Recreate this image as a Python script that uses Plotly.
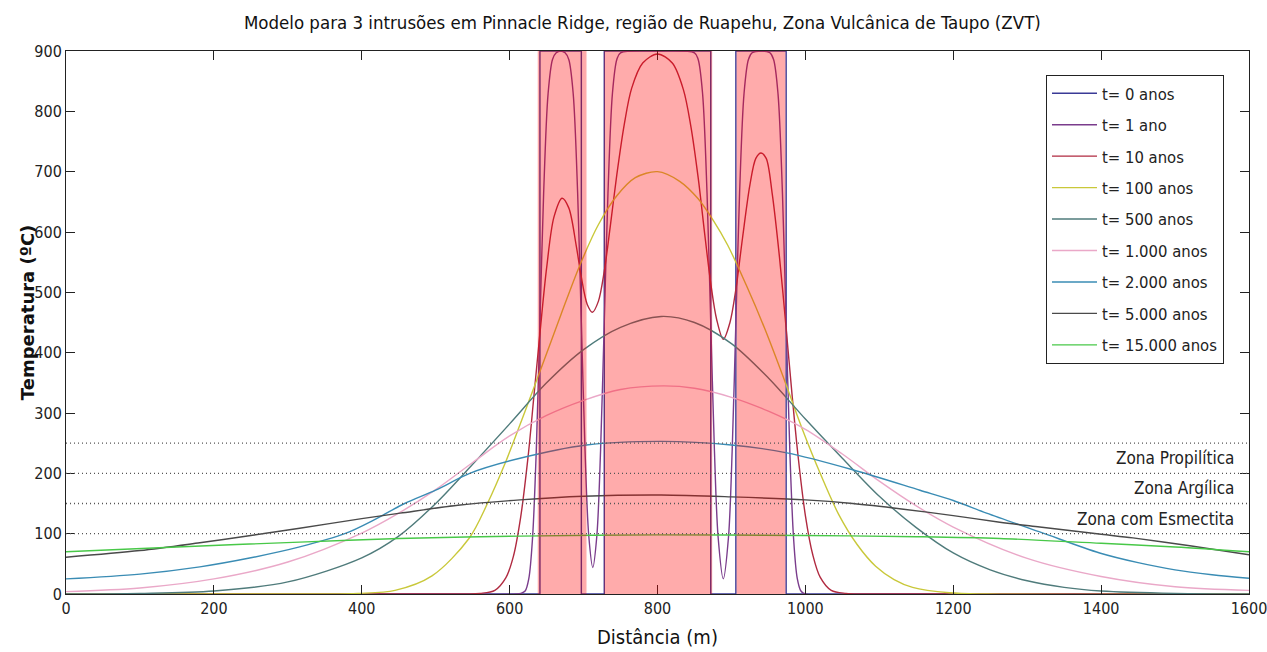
import plotly.graph_objects as go

# ---------------- data ----------------
x_t0 = [0, 641, 641, 697, 697, 728, 728, 872, 872, 906, 906, 974, 974, 1600]
y_t0 = [0, 0, 900, 900, 0, 0, 900, 900, 0, 0, 900, 900, 0, 0]

x_t1 = [0, 610, 615, 621, 626, 631, 636, 641, 646, 652, 658, 663, 669, 675, 680, 686, 692, 697, 702, 707,
        712.5, 718, 723, 728, 733, 739, 745, 750, 800, 850, 855, 861, 867, 872, 877, 882, 889, 896, 901, 906,
        911, 917, 923, 928, 940, 952, 957, 963, 969, 974, 979, 984, 989, 994, 1000, 1600]
y_t1 = [0, 0, 1, 5, 26, 93, 236, 450, 664, 829, 886, 897, 900, 897, 886, 829, 664, 450, 238, 97,
        44, 97, 238, 450, 664, 829, 886, 897, 900, 897, 886, 829, 664, 450, 238, 94, 25, 94, 238, 450,
        664, 829, 886, 897, 900, 897, 886, 829, 664, 450, 236, 93, 26, 5, 0, 0]

x_t10 = [0, 540, 560, 580, 595, 605, 615, 625, 633, 641, 650, 660, 671, 680, 690, 697, 705, 712, 720, 728,
         736, 745, 755, 765, 780, 800, 820, 835, 845, 855, 864, 872, 880, 889, 898, 906, 915, 925, 933, 940,
         947, 955, 965, 974, 982, 990, 1000, 1010, 1020, 1035, 1055, 1080, 1600]
y_t10 = [0, 0, 1, 6, 27, 62, 128, 228, 330, 432, 540, 625, 656, 640, 578, 525, 480, 467, 485, 535,
         608, 695, 778, 838, 880, 895, 880, 836, 776, 690, 595, 515, 455, 422, 450, 505, 590, 678, 722, 731,
         722, 665, 558, 440, 330, 230, 130, 65, 28, 6, 1, 0, 0]

x_t100 = [0, 345, 395, 445, 495, 545, 570, 595, 620, 645, 670, 695, 720, 745, 770, 800, 830, 855, 875, 895,
          920, 945, 970, 995, 1020, 1045, 1070, 1095, 1120, 1145, 1195, 1245, 1600]
y_t100 = [0, 0, 1, 6, 30, 92, 150, 220, 300, 382, 465, 545, 612, 660, 690, 700, 684, 655, 620, 578,
          512, 440, 360, 276, 200, 132, 82, 46, 24, 11, 2, 0, 0]

x_t500 = [0, 100, 200, 300, 400, 450, 500, 550, 600, 650, 700, 750, 805, 850, 900, 950, 1000, 1050, 1100,
          1150, 1200, 1250, 1300, 1350, 1400, 1500, 1600]
y_t500 = [0, 1, 5, 20, 60, 96, 150, 215, 282, 350, 405, 442, 460, 450, 415, 358, 290, 225, 162,
          110, 68, 40, 22, 11, 5, 1, 0]

x_t1000 = [0, 100, 200, 300, 400, 450, 500, 550, 600, 650, 700, 750, 808, 850, 900, 950, 1000, 1050, 1100,
           1150, 1200, 1300, 1400, 1500, 1600]
y_t1000 = [4, 10, 25, 53, 101, 134, 173, 218, 262, 296, 321, 339, 345, 341, 326, 303, 273, 232, 187,
           146, 111, 59, 29, 12, 6]

x_t2000 = [0, 100, 181, 250, 316, 377, 420, 458, 500, 546, 614, 704, 805, 900, 975, 1064, 1155, 1200, 1245,
           1317, 1398, 1450, 1500, 1550, 1600]
y_t2000 = [25, 33, 45, 60, 78, 100, 125, 150, 172, 200, 225, 247, 253, 247, 234, 206, 172, 155, 134,
           103, 68, 52, 40, 32, 26]

x_t5000 = [0, 100, 181, 250, 316, 400, 452, 530, 614, 700, 805, 900, 1000, 1064, 1130, 1200, 1263, 1317,
           1400, 1443, 1520, 1600]
y_t5000 = [61, 72, 85, 97, 109, 125, 134, 147, 156, 162, 164, 161, 156, 150, 141, 130, 119, 111,
           99, 93, 80, 65]

x_t15000 = [0, 150, 316, 450, 614, 800, 1000, 1150, 1263, 1400, 1500, 1600]
y_t15000 = [70, 78, 86, 92, 96, 98, 97, 95, 92, 84, 78, 70]

series_names = ["t= 0 anos", "t= 1 ano", "t= 10 anos", "t= 100 anos", "t= 500 anos",
                "t= 1.000 anos", "t= 2.000 anos", "t= 5.000 anos", "t= 15.000 anos"]

# intrusion (shaded) intervals, in metres
intrusion_start = [638, 728, 907]
intrusion_end = [704, 874, 973]

# alteration zone limits (ºC) and labels
zone_levels = [250, 200, 150, 100]
zone_labels = ["Zona Propilítica", "Zona Argílica", "Zona com Esmectita"]

x_ticks = [0, 200, 400, 600, 800, 1000, 1200, 1400, 1600]
y_ticks = [0, 100, 200, 300, 400, 500, 600, 700, 800, 900]

# ---------------- figure ----------------
xs_all = [x_t0, x_t1, x_t10, x_t100, x_t500, x_t1000, x_t2000, x_t5000, x_t15000]
ys_all = [y_t0, y_t1, y_t10, y_t100, y_t500, y_t1000, y_t2000, y_t5000, y_t15000]
colors = ["#3a3a96", "#7a3c8c", "#b02a40", "#c9c83a", "#4f7b7b",
          "#eaa8c8", "#3a8cb4", "#4a4a4a", "#48c848"]

NARROW = "DejaVu Sans Condensed, Liberation Sans Narrow, Arial Narrow, sans-serif"

fig = go.Figure()
for i, (nm, xs, ys, c) in enumerate(zip(series_names, xs_all, ys_all, colors)):
    fig.add_trace(go.Scatter(
        x=xs, y=ys, mode="lines", name=nm, legendgroup=f"g{i}",
        line=dict(color=c, width=1.4, shape="linear" if i == 0 else "spline", smoothing=0.9),
        cliponaxis=True,
    ))

# translucent red intrusion bands laid over the curves (tints them like the reference)
for x0, x1 in zip(intrusion_start, intrusion_end):
    fig.add_shape(type="rect", xref="x", yref="paper", x0=x0, x1=x1, y0=0, y1=1,
                  fillcolor="rgba(255,0,0,0.33)", line_width=0, layer="above")

for lvl in zone_levels:
    fig.add_shape(type="line", xref="paper", yref="y", x0=0, x1=1, y0=lvl, y1=lvl,
                  line=dict(color="#555555", width=1.3, dash="1px,3px"), layer="above")

for k, lab in enumerate(zone_labels):
    ymid = (zone_levels[k] + zone_levels[k + 1]) / 2
    fig.add_annotation(x=1583, y=ymid, xref="x", yref="y", text=lab, showarrow=False,
                       xanchor="right", yanchor="middle",
                       font=dict(family=NARROW, size=17, color="#222222"))

axis_common = dict(showline=True, linecolor="#222222", linewidth=1, mirror="ticks",
                   ticks="inside", ticklen=9, tickcolor="#222222", showgrid=False, zeroline=False,
                   ticklabeloverflow="allow", automargin=False,
                   tickfont=dict(family=NARROW, size=16, color="#222222"))

fig.update_xaxes(range=[0, 1600], tickvals=x_ticks, ticktext=[str(v) for v in x_ticks], **axis_common)
fig.update_yaxes(range=[0, 900], tickvals=y_ticks, ticktext=[str(v) for v in y_ticks], **axis_common)

# axis titles placed as annotations to match the reference positions
fig.add_annotation(text="Distância (m)", xref="x", yref="paper", x=800, y=-0.079,
                   showarrow=False, xanchor="center", yanchor="middle",
                   font=dict(family=NARROW, size=20, color="#111111"))
fig.add_annotation(text="<b>Temperatura (ºC)</b>", xref="paper", yref="paper", x=-0.033, y=0.519,
                   showarrow=False, xanchor="center", yanchor="middle", textangle=-90,
                   font=dict(family="DejaVu Sans", size=18, color="#111111"))

fig.update_layout(
    width=1267, height=652,
    margin=dict(l=66, r=18, t=51, b=58, autoexpand=False),
    plot_bgcolor="white", paper_bgcolor="white",
    title=dict(text="Modelo para 3 intrusões em Pinnacle Ridge, região de Ruapehu, Zona Vulcânica de Taupo (ZVT)",
               x=0.507, xref="container", xanchor="center", y=0.966, yanchor="middle",
               font=dict(family=NARROW, size=18.5, color="#111111")),
    legend=dict(x=0.8284, y=0.9558, xanchor="left", yanchor="top",
                bgcolor="white", bordercolor="#222222", borderwidth=1,
                font=dict(family=NARROW, size=16.5, color="#222222"),
                traceorder="grouped", tracegroupgap=7, itemwidth=45),
    showlegend=True,
)

fig.write_html("out.html")
